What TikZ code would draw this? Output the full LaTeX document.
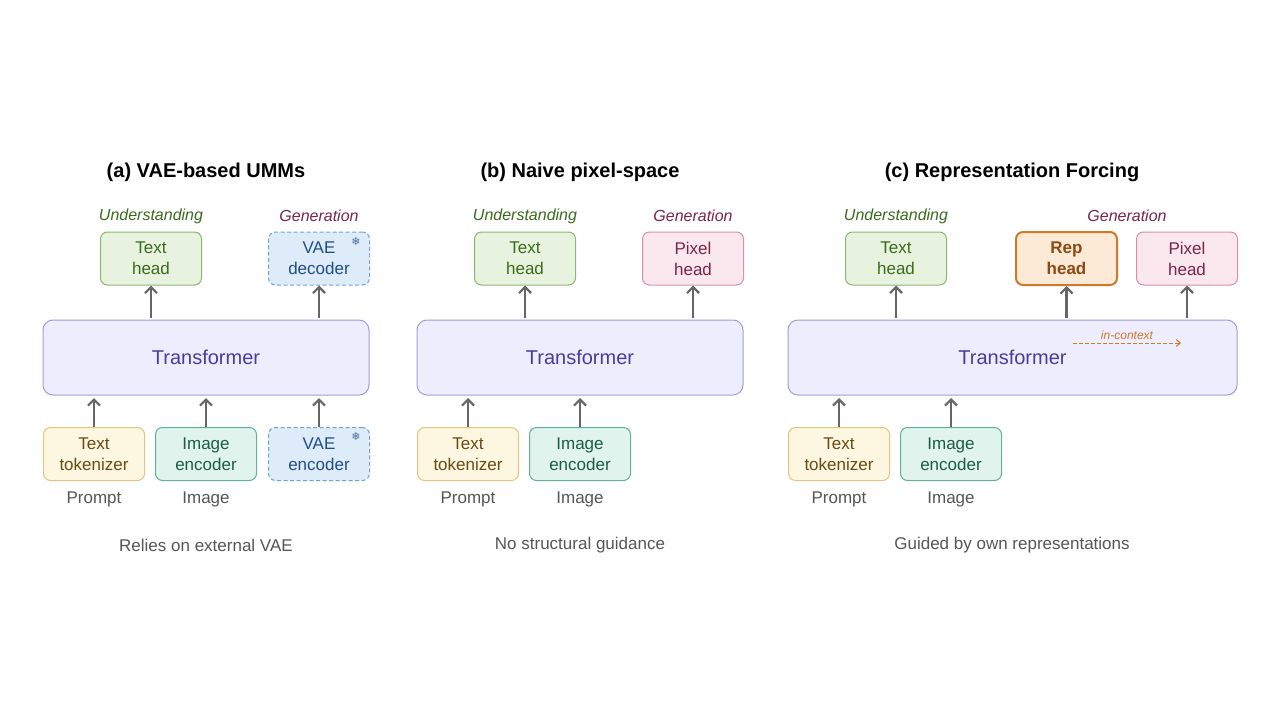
\documentclass[tikz,border=0pt]{standalone}
\usepackage{fontspec}
\setmainfont{Liberation Sans}
\newfontfamily\dejavu{DejaVu Sans}
\usetikzlibrary{arrows.meta}
\definecolor{gF}{HTML}{E8F3DF}\definecolor{gD}{HTML}{86B96E}\definecolor{gT}{HTML}{3B6A1C}
\definecolor{bF}{HTML}{DEEBF8}\definecolor{bD}{HTML}{6FA2D2}\definecolor{bT}{HTML}{1F4E8C}
\definecolor{pF}{HTML}{FBE8EF}\definecolor{pD}{HTML}{D68FA8}\definecolor{pT}{HTML}{7A2448}
\definecolor{tF}{HTML}{EEEDFD}\definecolor{tD}{HTML}{A19BDC}\definecolor{tT}{HTML}{4A3C9E}
\definecolor{yF}{HTML}{FDF7E2}\definecolor{yD}{HTML}{E2C47E}\definecolor{yT}{HTML}{6B4A10}
\definecolor{eF}{HTML}{E0F4ED}\definecolor{eD}{HTML}{62B192}\definecolor{eT}{HTML}{1C5C45}
\definecolor{rF}{HTML}{FCEAD6}\definecolor{rD}{HTML}{CD7A2A}\definecolor{rT}{HTML}{8A4A12}
\definecolor{arr}{HTML}{666666}\definecolor{lab}{HTML}{555555}
\begin{document}
\begin{tikzpicture}[x=1pt,y=-1pt,
 bx/.style={draw,rounded corners=7pt,line width=1pt,minimum width=101pt,minimum height=53pt,align=center,font=\fontsize{17}{21}\selectfont,inner sep=0pt},
 grn/.style={bx,fill=gF,draw=gD,text=gT},
 vae/.style={bx,fill=bF,draw=bD,text=bT,dashed,dash pattern=on 4pt off 2.5pt},
 pix/.style={bx,fill=pF,draw=pD,text=pT},
 tok/.style={bx,fill=yF,draw=yD,text=yT},
 enc/.style={bx,fill=eF,draw=eD,text=eT},
 rep/.style={bx,fill=rF,draw=rD,text=rT,line width=2pt,font=\fontsize{17}{21}\selectfont\bfseries},
 tr/.style={draw=tD,fill=tF,text=tT,rounded corners=10pt,line width=1pt,minimum height=75pt,font=\fontsize{20}{24}\selectfont,inner sep=0pt},
 ar/.style={draw=arr,line width=2.2pt,-{Straight Barb[length=6pt,width=12pt]}},
 ttl/.style={font=\fontsize{20}{24}\selectfont\bfseries,text=black},
 und/.style={font=\fontsize{16}{20}\selectfont\itshape,text=gT},
 gen/.style={font=\fontsize{16}{20}\selectfont\itshape,text=pT},
 sm/.style={font=\fontsize{17}{20}\selectfont,text=lab},
 snow/.style={font=\dejavu\fontsize{11}{12}\selectfont,text=bT!80}]
\useasboundingbox (0,0) rectangle (1280,720);
% panel a
\node[ttl] (ta) at (206,172) {(a) VAE-based UMMs};
\node[und] (ua) at (151,216) {Understanding};
\node[gen] (ga) at (319,216) {Generation};
\node[grn] (tha) at (151,258.5) {Text\\head};
\node[vae] (vda) at (319,258.5) {VAE\\decoder};
\node[snow] at (356,241) {❄};
\node[tr,minimum width=326pt] (tra) at (206,357.5) {Transformer};
\node[tok] (tka) at (94,454) {Text\\tokenizer};
\node[enc] (iea) at (206,454) {Image\\encoder};
\node[vae] (vea) at (319,454) {VAE\\encoder};
\node[snow] at (356,436) {❄};
\node[sm] (pa) at (94,499) {Prompt};
\node[sm] (ia) at (206,499) {Image};
\node[sm] (ca) at (206,545) {Relies on external VAE};
\draw[ar] (151,318) -- (tha.south);
\draw[ar] (319,318) -- (vda.south);
\draw[ar] (tka.north) -- (94,398);
\draw[ar] (iea.north) -- (206,398);
\draw[ar] (vea.north) -- (319,398);
% panel b
\node[ttl] (tb) at (580,172) {(b) Naive pixel-space};
\node[und] (ub) at (525,216) {Understanding};
\node[gen] (gb) at (693,216) {Generation};
\node[grn] (thb) at (525,258.5) {Text\\head};
\node[pix] (phb) at (693,258.5) {Pixel\\head};
\node[tr,minimum width=326pt] (trb) at (580,357.5) {Transformer};
\node[tok] (tkb) at (468,454) {Text\\tokenizer};
\node[enc] (ieb) at (580,454) {Image\\encoder};
\node[sm] (pb) at (468,499) {Prompt};
\node[sm] (ib) at (580,499) {Image};
\node[sm] (cb) at (580,545) {No structural guidance};
\draw[ar] (525,318) -- (thb.south);
\draw[ar] (693,318) -- (phb.south);
\draw[ar] (tkb.north) -- (468,398);
\draw[ar] (ieb.north) -- (580,398);
% panel c
\node[ttl] (tc) at (1012,172) {(c) Representation Forcing};
\node[und] (uc) at (896,216) {Understanding};
\node[gen] (gc) at (1127,216) {Generation};
\node[grn] (thc) at (896,258.5) {Text\\head};
\node[rep] (rhc) at (1066.5,258.5) {Rep\\head};
\node[pix] (phc) at (1187,258.5) {Pixel\\head};
\node[tr,minimum width=449pt] (trc) at (1012.5,357.5) {Transformer};
\node[tok] (tkc) at (839,454) {Text\\tokenizer};
\node[enc] (iec) at (951,454) {Image\\encoder};
\node[sm] (pc) at (839,499) {Prompt};
\node[sm] (ic) at (951,499) {Image};
\node[sm] (cc) at (1012,545) {Guided by own representations};
\draw[ar] (896,318) -- (thc.south);
\draw[ar] (1066.5,318) -- (rhc.south);
\draw[ar] (1187,318) -- (phc.south);
\draw[ar] (tkc.north) -- (839,398);
\draw[ar] (iec.north) -- (951,398);
\coordinate (ic1) at (1073,343);
\coordinate (ic2) at (1181,343);
\draw[draw=rD,line width=1pt,dashed,dash pattern=on 4pt off 2pt,-{Straight Barb[length=4pt,width=7pt]}] (ic1) -- node[above=0pt,font=\fontsize{12}{14}\selectfont\itshape,text=rD] {in-context} (ic2);
\end{tikzpicture}
\end{document}
